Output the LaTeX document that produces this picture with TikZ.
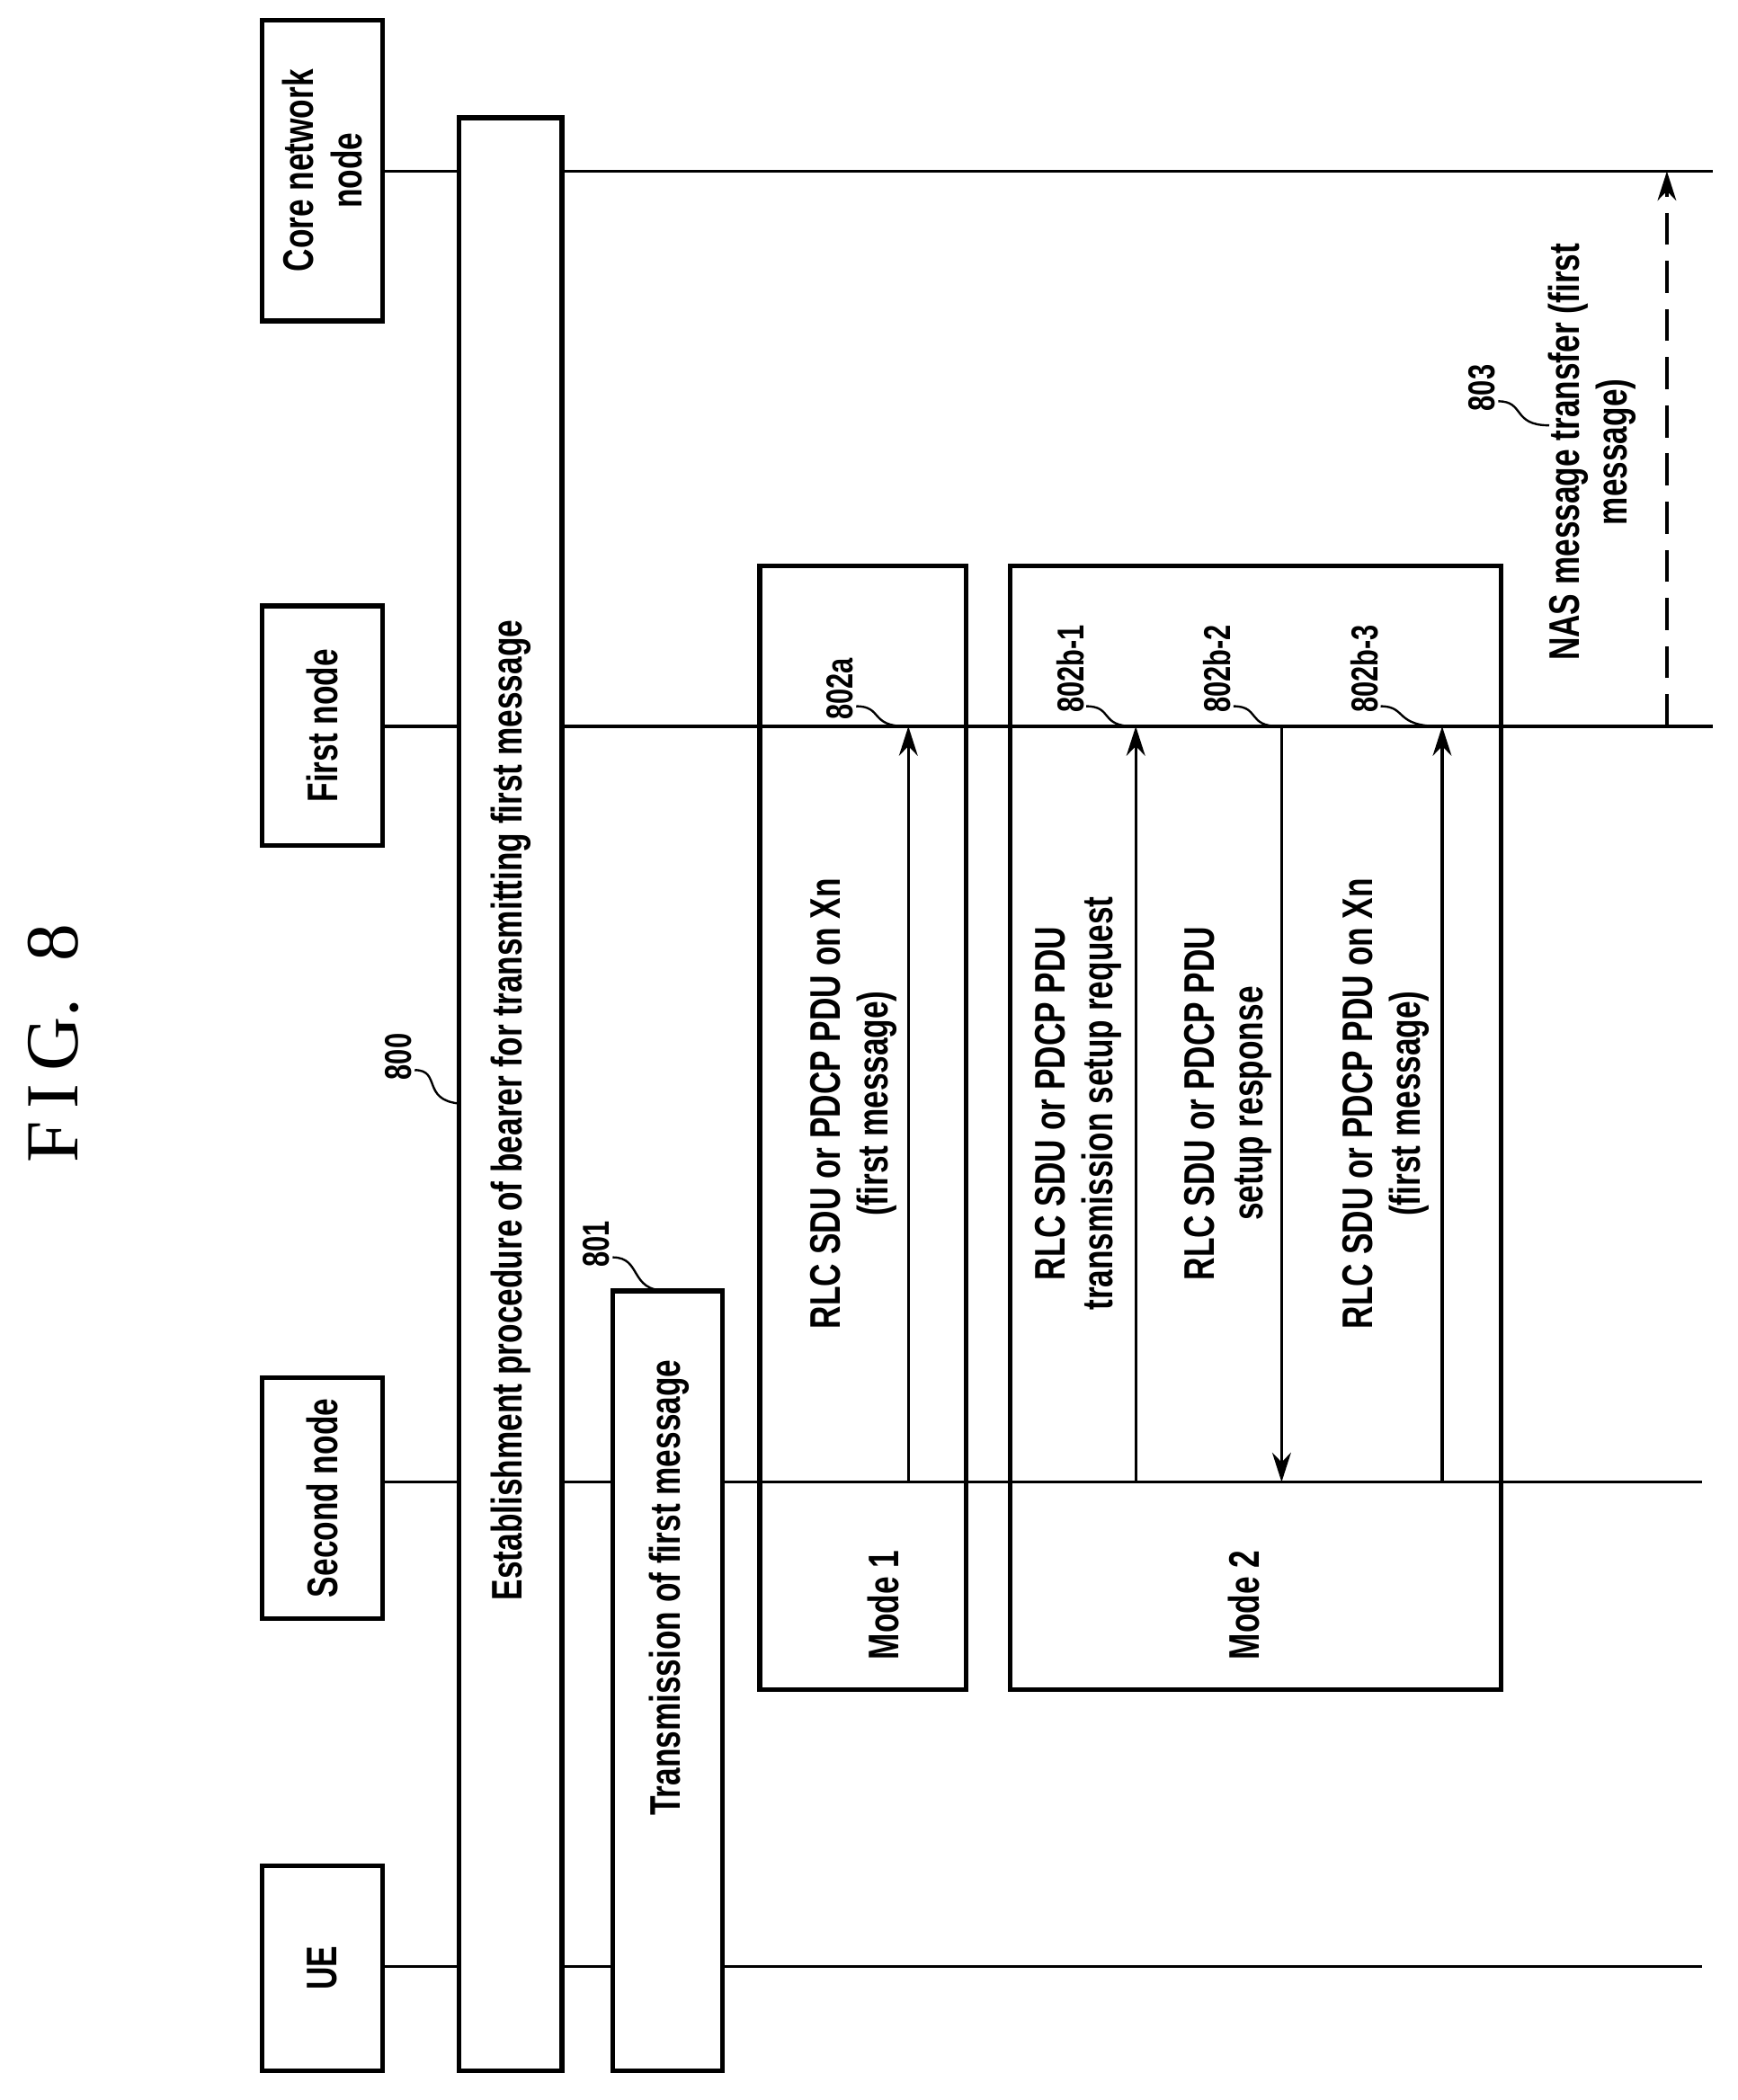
\documentclass[tikz,border=0pt]{standalone}
\usepackage{fontspec}
\setmainfont{Liberation Serif}
\setsansfont{Liberation Sans}[FakeStretch=0.74]
\usetikzlibrary{fit,arrows.meta}
\begin{document}
\begin{tikzpicture}[x=0.5pt,y=-0.5pt,
  box/.style={draw,line width=1.8pt,inner sep=0pt},
  lab/.style={rotate=90,font=\sffamily\bfseries\fontsize{16}{18}\selectfont,align=center},
  num/.style={rotate=90,font=\sffamily\bfseries\fontsize{14}{16}\selectfont},
  life/.style={line width=1.1pt},
  arr/.style={line width=1.1pt,-{Stealth[length=11pt,width=7pt]}},
  sq/.style={line width=0.8pt}]
\useasboundingbox (0,0) rectangle (1299,1570);
\node[rotate=90,font=\rmfamily\fontsize{28}{30}\selectfont] (fig) at (40,780) {F\,I\,G.\ \ 8};
% entity boxes
\coordinate (c1) at (196,15); \coordinate (c2) at (286,240);
\node[box,fit=(c1)(c2)] (core) {};
\node[lab] at (core.center) {Core network\\node};
\coordinate (f1) at (196,453); \coordinate (f2) at (286,632);
\node[box,fit=(f1)(f2)] (first) {};
\node[lab] at (first.center) {First node};
\coordinate (s1) at (196,1030); \coordinate (s2) at (286,1210);
\node[box,fit=(s1)(s2)] (second) {};
\node[lab] at (second.center) {Second node};
\coordinate (u1) at (196,1395); \coordinate (u2) at (286,1548);
\node[box,fit=(u1)(u2)] (ue) {};
\node[lab] at (ue.center) {UE};
% procedure boxes
\coordinate (p1) at (343,88); \coordinate (p2) at (420,1548);
\node[box,fit=(p1)(p2)] (b800) {};
\node[lab] at (382,830) {Establishment procedure of bearer for transmitting first message};
\coordinate (t1) at (458,965); \coordinate (t2) at (540,1548);
\node[box,fit=(t1)(t2)] (b801) {};
\node[lab] at (500,1187) {Transmission of first message};
\coordinate (m1a) at (568,423); \coordinate (m1b) at (722,1263);
\node[box,fit=(m1a)(m1b)] (mode1) {};
\node[lab] at (660,1200) {Mode 1};
\coordinate (m2a) at (755,423); \coordinate (m2b) at (1122,1263);
\node[box,fit=(m2a)(m2b)] (mode2) {};
\node[lab] at (930,1200) {Mode 2};
% lifelines
\coordinate (coreE) at (1280,128);
\coordinate (firstE) at (1280,543);
\coordinate (secE) at (1272,1108);
\coordinate (ueE) at (1272,1470);
\draw[life] (286,128) -- (343,128) (420,128) -- (coreE);
\draw[life] (286,543) -- (343,543) (420,543) -- (firstE);
\draw[life] (286,1108) -- (343,1108) (420,1108) -- (458,1108) (540,1108) -- (secE);
\draw[life] (286,1470) -- (343,1470) (420,1470) -- (458,1470) (540,1470) -- (ueE);
% arrows
\coordinate (a1s) at (679,1108); \coordinate (a1e) at (679,543);
\draw[arr] (a1s) -- (a1e);
\coordinate (a2s) at (849,1108); \coordinate (a2e) at (849,543);
\draw[arr] (a2s) -- (a2e);
\coordinate (a3s) at (958,543); \coordinate (a3e) at (958,1108);
\draw[arr] (a3s) -- (a3e);
\coordinate (a4s) at (1078,1108); \coordinate (a4e) at (1078,543);
\draw[arr] (a4s) -- (a4e);
\coordinate (a5s) at (1246,543); \coordinate (a5e) at (1246,128);
\draw[arr,dash pattern=on 12pt off 6pt] (a5s) -- (a5e);
% labels
\node[lab] at (638,825) {RLC SDU or PDCP PDU on Xn\\(first message)};
\node[lab] at (806,825) {RLC SDU or PDCP PDU\\transmission setup request};
\node[lab] at (918,825) {RLC SDU or PDCP PDU\\setup response};
\node[lab] at (1036,825) {RLC SDU or PDCP PDU on Xn\\(first message)};
\node[lab] at (1190,338) {NAS message transfer (first\\message)};
% numerals
\node[num] (n800) at (298,790) {800};
\draw[sq] (310,800) .. controls (330,800) and (315,822) .. (343,825);
\node[num] (n801) at (446,930) {801};
\draw[sq] (458,940) .. controls (480,940) and (470,965) .. (498,965);
\node[num] (n802a) at (628,515) {802a};
\draw[sq] (640,528) .. controls (660,528) and (650,543) .. (677,543);
\node[num] (n802b1) at (800,500) {802b-1};
\draw[sq] (812,528) .. controls (832,528) and (822,543) .. (847,543);
\node[num] (n802b2) at (910,500) {802b-2};
\draw[sq] (922,528) .. controls (942,528) and (932,543) .. (956,543);
\node[num] (n802b3) at (1020,500) {802b-3};
\draw[sq] (1032,528) .. controls (1052,528) and (1042,543) .. (1076,543);
\node[num] (n803) at (1108,290) {803};
\draw[sq] (1120,300) .. controls (1140,300) and (1130,318) .. (1158,318);
\end{tikzpicture}
\end{document}
